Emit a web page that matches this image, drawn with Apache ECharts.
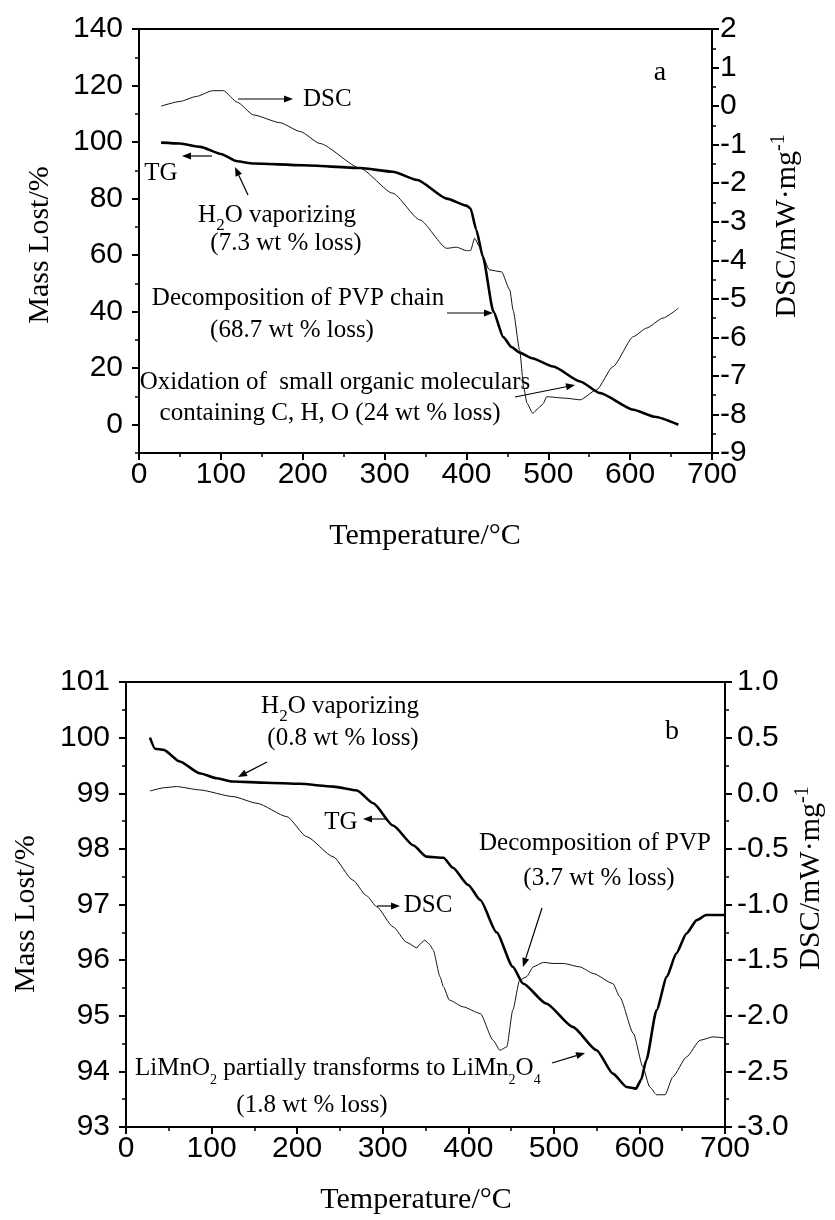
<!DOCTYPE html>
<html>
<head>
<meta charset="utf-8">
<script src="https://cdn.jsdelivr.net/npm/echarts@6/dist/echarts.min.js"></script>
<style>
  html, body { margin: 0; padding: 0; background: #fff; }
  #main { width: 835px; height: 1220px; }
</style>
</head>
<body>
<div id="main"></div>
<script>
// (a) TG / DSC of the precursor, [temperature, value]
var tgA = [[27,99.8],[50,99.5],[75,98.3],[100,95.8],[120,93.2],[140,92.4],[200,91.8],[270,90.8],[310,89.5],
  [340,86.6],[376,80],[400,77.5],[405,76.5],[412,69],[420,59.5],[433,40],[445,31],[455,27.5],[465,25.5],
  [480,23.5],[506,20.6],[539,15.3],[563,11.2],[604,5.3],[630,2.8],[659,0]];
var dscA = [[27,0.0],[50,0.12],[70,0.25],[90,0.40],[103,0.40],[120,0.1],[140,-0.23],[172,-0.43],[197,-0.66],
  [221,-0.97],[270,-1.61],[310,-2.26],[343,-2.95],[376,-3.69],[388,-3.66],[400,-3.75],[405,-3.75],[410,-3.43],
  [416,-3.65],[420,-3.9],[428,-4.25],[443,-4.30],[453,-4.77],[457,-5.29],[465,-6.33],[470,-7.3],[474,-7.71],
  [481,-7.97],[490,-7.8],[494,-7.71],[498,-7.54],[522,-7.58],[539,-7.62],[559,-7.36],[579,-6.76],[604,-5.98],
  [620,-5.76],[640,-5.50],[659,-5.24]];

// (b) TG / DSC of the calcined sample
var tgB = [[28,100.0],[34,99.8],[44,99.78],[63,99.57],[86,99.36],[106,99.27],[125,99.21],[164,99.19],[203,99.17],
  [242,99.12],[270,99.05],[289,98.82],[312,98.42],[336,98.06],[351,97.86],[371,97.84],[382,97.66],[400,97.35],
  [414,97.08],[433,96.5],[452,95.88],[464,95.58],[491,95.22],[522,94.80],[550,94.38],[569,93.96],[585,93.72],
  [596,93.69],[602,93.85],[608,94.2],[620,95.1],[632,95.7],[643,96.12],[655,96.48],[667,96.72],[678,96.81],[700,96.81]];
var dscB = [[28,0.02],[45,0.05],[59,0.06],[86,0.03],[125,-0.03],[153,-0.09],[188,-0.21],[211,-0.39],[242,-0.57],
  [265,-0.78],[281,-0.92],[293,-1.02],[312,-1.20],[328,-1.34],[340,-1.39],[343,-1.36],[349,-1.32],[355,-1.36],
  [359,-1.41],[367,-1.65],[371,-1.74],[378,-1.86],[394,-1.92],[414,-1.98],[429,-2.22],[437,-2.31],[445,-2.28],
  [452,-1.95],[460,-1.68],[468,-1.65],[476,-1.56],[488,-1.52],[499,-1.53],[511,-1.53],[530,-1.56],[546,-1.62],
  [569,-1.71],[577,-1.83],[593,-2.16],[604,-2.46],[612,-2.64],[620,-2.71],[630,-2.71],[639,-2.55],[655,-2.37],
  [671,-2.22],[686,-2.19],[700,-2.20]];

// tick labels
var massTicksA = [0, 20, 40, 60, 80, 100, 120, 140];
var massMinorA = [-10, 10, 30, 50, 70, 90, 110, 130];

var chart = echarts.init(document.getElementById('main'));

var SANS = 'Liberation Sans';
var SERIF = 'Liberation Serif';

function xAxisOf(grid) {
  return {
    gridIndex: grid, type: 'value', min: 0, max: 700, interval: 100,
    axisLine: { onZero: false, lineStyle: { color: '#000', width: 2 } },
    axisTick: { length: 7, lineStyle: { color: '#000', width: 2 } },
    minorTick: { show: true, splitNumber: 2, length: 4, lineStyle: { color: '#000', width: 1.5 } },
    splitLine: { show: false },
    axisLabel: { color: '#000', fontFamily: SANS, fontSize: 30, margin: 7 }
  };
}

function yAxisOf(grid, pos, min, max, interval, margin, fmt) {
  return {
    gridIndex: grid, type: 'value', position: pos, min: min, max: max, interval: interval,
    axisLine: { show: true, onZero: false, lineStyle: { color: '#000', width: 2 } },
    axisTick: { length: 7, lineStyle: { color: '#000', width: 2 } },
    minorTick: { show: true, splitNumber: 2, length: 4, lineStyle: { color: '#000', width: 1.5 } },
    splitLine: { show: false },
    axisLabel: { color: '#000', fontFamily: SANS, fontSize: 30, margin: margin, formatter: fmt }
  };
}

function arrow(x1, y1, x2, y2) {
  var a = Math.atan2(y2 - y1, x2 - x1), L = 9, W = 3.5;
  var bx = x2 - L * Math.cos(a), by = y2 - L * Math.sin(a);
  var px = -Math.sin(a) * W, py = Math.cos(a) * W;
  return [
    { type: 'line', shape: { x1: x1, y1: y1, x2: bx, y2: by }, style: { stroke: '#000', lineWidth: 1.2 } },
    { type: 'polygon', shape: { points: [[x2, y2], [bx + px, by + py], [bx - px, by - py]] }, style: { fill: '#000' } }
  ];
}

var rich = {
  sub: { fontFamily: SERIF, fontSize: 17, padding: [22, 0, 0, 0] },
  sub2: { fontFamily: SERIF, fontSize: 14, padding: [24, 0, 0, 0] },
  sup: { fontFamily: SERIF, fontSize: 20, padding: [0, 0, 16, 0] }
};

function note(text, x, y, align, size, rot) {
  return {
    type: 'text', x: x, y: y, rotation: rot || 0,
    style: {
      text: text, fill: '#000', fontFamily: SERIF, fontSize: size || 25,
      align: align || 'center', verticalAlign: 'middle', rich: rich
    }
  };
}

var graphics = [
  // axis titles
  note('Mass Lost/%', 40, 245, 'center', 30, Math.PI / 2),
  note('DSC/mW·mg{sup|-1}', 787, 226, 'center', 30, Math.PI / 2),
  note('Temperature/°C', 425, 536, 'center', 30),
  note('Mass Lost/%', 26, 914, 'center', 30, Math.PI / 2),
  note('DSC/mW·mg{sup|-1}', 811, 878, 'center', 30, Math.PI / 2),
  note('Temperature/°C', 416, 1200, 'center', 30),
  // panel a
  note('a', 660, 73, 'center', 28),
  note('DSC', 303, 99, 'left'),
  note('TG', 161, 173),
  note('H{sub|2}O vaporizing', 277, 215),
  note('(7.3 wt % loss)', 286, 243),
  note('Decomposition of PVP chain', 298, 298),
  note('(68.7 wt % loss)', 292, 330),
  note('Oxidation of  small organic moleculars', 335, 382),
  note('containing C, H, O (24 wt % loss)', 330, 413),
  // panel b
  note('b', 672, 732, 'center', 28),
  note('H{sub|2}O vaporizing', 340, 706),
  note('(0.8 wt % loss)', 343, 738),
  note('TG', 341, 822),
  note('DSC', 428, 905),
  note('Decomposition of PVP', 595, 843),
  note('(3.7 wt % loss)', 599, 878),
  note('LiMnO{sub2|2} partially transforms to LiMn{sub2|2}O{sub2|4}', 135, 1068, 'left'),
  note('(1.8 wt % loss)', 312, 1105)
].concat(
  arrow(238, 99, 293, 99),
  arrow(212, 156, 182, 156),
  arrow(248, 195, 235, 167),
  arrow(447, 313, 493, 313),
  arrow(515, 397, 575, 385),
  arrow(267, 762, 238, 777),
  arrow(387, 819, 363, 819),
  arrow(377, 906, 400, 906),
  arrow(542, 908, 523, 967),
  arrow(552, 1063, 585, 1053)
);

var thick = { color: '#000', width: 2.6 };
var thin = { color: '#111', width: 1 };

chart.setOption({
  backgroundColor: '#fff',
  animation: false,
  grid: [
    { left: 139, top: 29, width: 573, height: 424, show: true, borderColor: '#000', borderWidth: 2 },
    { left: 126, top: 682, width: 599, height: 445, show: true, borderColor: '#000', borderWidth: 2 }
  ],
  xAxis: [xAxisOf(0), xAxisOf(1)],
  yAxis: [
    (function () {
      var ax = yAxisOf(0, 'left', -10, 140, 10, 16, function (v) { return v % 20 === 0 ? String(v) : ''; });
      ax.minorTick = { show: false };
      ax.axisTick.customValues = massTicksA;
      ax.axisLabel.customValues = massTicksA;
      return ax;
    })(),
    (function () {
      var ax = yAxisOf(0, 'left', -10, 140, 10, 16);
      ax.minorTick = { show: false };
      ax.axisTick = { length: 4, customValues: massMinorA, lineStyle: { color: '#000', width: 1.5 } };
      ax.axisLabel = { show: false };
      return ax;
    })(),
    yAxisOf(0, 'right', -9, 2, 1, 8),
    yAxisOf(1, 'left', 93, 101, 1, 16),
    yAxisOf(1, 'right', -3, 1, 0.5, 12, function (v) { return v.toFixed(1); })
  ],
  series: [
    { name: 'TG a', type: 'line', xAxisIndex: 0, yAxisIndex: 0, data: tgA, showSymbol: false,
      smooth: 0.2, smoothMonotone: 'x', lineStyle: thick },
    { name: 'DSC a', type: 'line', xAxisIndex: 0, yAxisIndex: 2, data: dscA, showSymbol: false,
      smooth: 0.2, smoothMonotone: 'x', lineStyle: thin },
    { name: 'TG b', type: 'line', xAxisIndex: 1, yAxisIndex: 3, data: tgB, showSymbol: false,
      smooth: 0.2, smoothMonotone: 'x', lineStyle: thick },
    { name: 'DSC b', type: 'line', xAxisIndex: 1, yAxisIndex: 4, data: dscB, showSymbol: false,
      smooth: 0.2, smoothMonotone: 'x', lineStyle: thin }
  ],
  graphic: graphics
});
</script>
</body>
</html>
